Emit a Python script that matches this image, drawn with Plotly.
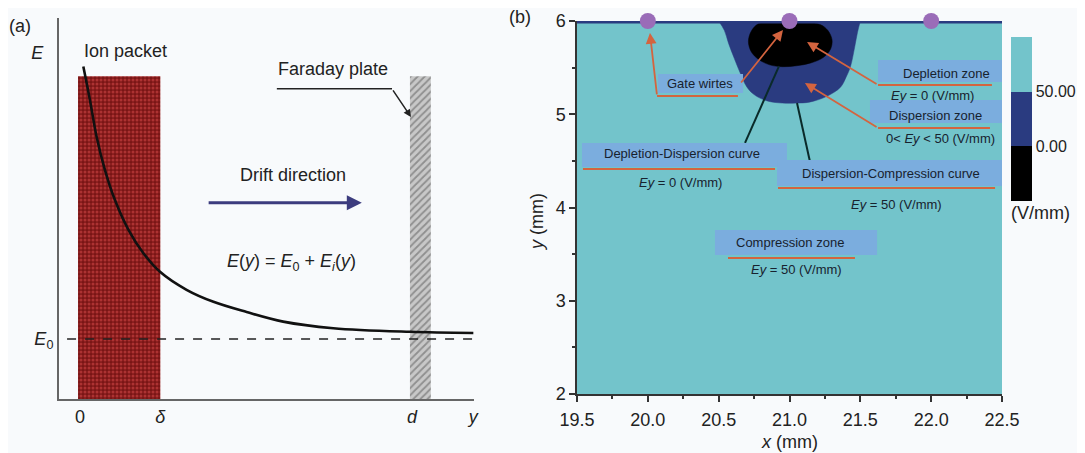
import plotly.graph_objects as go

# ---------------- Panel (a) data (schematic units) ----------------
curve_y = [0.10, 0.30, 0.50, 0.75, 1.05, 1.46, 1.91, 2.41, 3.21, 4.02, 5.02, 6.12, 7.63, 9.94, 11.85]
curve_E = [5.54, 4.98, 4.37, 3.82, 3.32, 2.82, 2.43, 2.12, 1.82, 1.62, 1.45, 1.29, 1.18, 1.12, 1.10]
E0 = 1.0
delta = 2.42
d_pos = 10.0
packet_x = [-0.06, 2.42, 2.42, -0.06, -0.06]
packet_E = [0, 0, 5.38, 5.38, 0]
plate_x = [9.94, 10.57, 10.57, 9.94, 9.94]
plate_E = [0, 0, 5.38, 5.38, 0]
a_xtick_vals = [0, delta, d_pos, 11.85]
a_xtick_text = ["0", "<i>δ</i>", "<i>d</i>", "<i>y</i>"]
a_ytick_vals = [E0, 5.78]
a_ytick_text = ["<i>E</i><sub>0</sub>", "<i>E</i>  "]
drift_arrow = dict(x0=3.83, x1=8.49, E=3.27)
faraday_leader_x = [5.93, 9.40]
faraday_leader_E = [5.17, 5.17]
faraday_tip = (9.97, 4.70)

# ---------------- Panel (b) data (mm) ----------------
field_x = [19.5, 22.5, 22.5, 19.5, 19.5]
field_y = [2, 2, 6, 6, 2]
navy_x = [20.50, 20.54, 20.57, 20.61, 20.65, 20.70, 20.76, 20.85, 20.95, 21.05,
          21.14, 21.26, 21.36, 21.40, 21.43, 21.46, 21.48, 21.50]
navy_y = [6.00, 5.90, 5.76, 5.60, 5.45, 5.29, 5.20, 5.14, 5.12, 5.12,
          5.13, 5.19, 5.29, 5.40, 5.51, 5.72, 5.88, 6.00]
black_x = [20.78, 20.90, 21.00, 21.12, 21.22, 21.27, 21.30, 21.29, 21.24, 21.15,
           21.05, 20.95, 20.86, 20.78, 20.73, 20.71, 20.73, 20.78]
black_y = [5.97, 5.99, 5.99, 5.99, 5.96, 5.90, 5.80, 5.70, 5.61, 5.55,
           5.52, 5.51, 5.53, 5.59, 5.67, 5.78, 5.89, 5.97]
gate_x = [20.0, 21.0, 22.0]
gate_y = [6.0, 6.0, 6.0]
cbar_vals = [0, 50]
cbar_text = ["0.00", "50.00"]

# label boxes: (x0, x1, y0, y1, text, text_x, text_y)
boxes = [
    (20.072, 20.672, 5.228, 5.432, "Gate wirtes", 20.368, 5.325),
    (21.625, 22.50, 5.346, 5.582, "Depletion zone", 22.105, 5.440),
    (21.568, 22.50, 4.906, 5.153, "Dispersion zone", 22.030, 4.990),
    (19.535, 20.982, 4.434, 4.692, "Depletion-Dispersion curve", 20.241, 4.574),
    (20.912, 22.50, 4.230, 4.510, "Dispersion-Compression curve", 21.716, 4.370),
    (20.474, 21.618, 3.491, 3.759, "Compression zone", 21.003, 3.625),
]
# red underlines: (x0, x1, y)
underlines = [
    (20.065, 20.636, 5.196),
    (21.625, 22.429, 5.314),
    (21.625, 22.415, 4.853),
    (19.542, 20.898, 4.413),
    (20.919, 22.451, 4.209),
    (20.566, 21.462, 3.458),
]
# value captions: (text, x, y)
captions = [
    ("<i>Ey</i> = 0 (V/mm)", 22.006, 5.196),
    ("0&lt; <i>Ey</i> &lt; 50 (V/mm)", 22.069, 4.745),
    ("<i>Ey</i> = 0 (V/mm)", 20.234, 4.263),
    ("<i>Ey</i> = 50 (V/mm)", 21.752, 4.027),
    ("<i>Ey</i> = 50 (V/mm)", 21.046, 3.330),
]
# red arrows: (tail_x, tail_y, tip_x, tip_y)
red_arrows = [
    (20.065, 5.196, 20.015, 5.871),
    (20.650, 5.324, 20.954, 5.903),
    (21.625, 5.314, 21.124, 5.775),
    (21.625, 4.853, 21.109, 5.335),
]
# black leader lines: (x0, y0, x1, y1)
black_leaders = [
    (20.686, 4.692, 20.926, 5.517),
    (21.053, 5.121, 21.145, 4.488),
]

# page body offset of the browser (8px) is compensated here
OFF = 8
W, H = 1085 - OFF, 453 - OFF
FONT = "Liberation Sans, Arial, sans-serif"
CYAN = "#73c4cb"
NAVY = "#2a3b80"
BOXC = "#7badde"
REDL = "#d4643f"
BG = "#f8fafc"


def px(v):
    return (v - OFF) / W


def py(v):
    return 1 - (v - OFF) / H


fig = go.Figure()

# ---- Panel (a) traces ----
fig.add_trace(go.Scatter(
    x=packet_x, y=packet_E, mode="lines", fill="toself",
    line=dict(width=0, color="#7b1616"), fillcolor="#7b1616",
    fillpattern=dict(shape=".", bgcolor="#7a1515", fgcolor="#e05050", size=4, solidity=0.45),
    xaxis="x", yaxis="y", hoverinfo="skip", showlegend=False))
fig.add_trace(go.Scatter(
    x=plate_x, y=plate_E, mode="lines", fill="toself",
    line=dict(width=0, color="#bbbbbb"), fillcolor="#c4c4c4",
    fillpattern=dict(shape="/", bgcolor="#c8c8c8", fgcolor="#555555", size=5, solidity=0.35),
    xaxis="x", yaxis="y", hoverinfo="skip", showlegend=False))
fig.add_trace(go.Scatter(
    x=[-0.39, 11.87], y=[E0, E0], mode="lines",
    line=dict(color="#222", width=1.6, dash="dash"),
    xaxis="x", yaxis="y", hoverinfo="skip", showlegend=False))
fig.add_trace(go.Scatter(
    x=curve_y, y=curve_E, mode="lines", line=dict(color="#111", width=2.6, shape="spline"),
    xaxis="x", yaxis="y", hoverinfo="skip", showlegend=False))
fig.add_trace(go.Scatter(
    x=faraday_leader_x, y=faraday_leader_E, mode="lines", line=dict(color="#222", width=1.5),
    xaxis="x", yaxis="y", hoverinfo="skip", showlegend=False))

# ---- Panel (b) traces ----
fig.add_trace(go.Scatter(
    x=field_x, y=field_y, mode="lines", fill="toself", line=dict(width=0, color=CYAN),
    fillcolor=CYAN, xaxis="x2", yaxis="y2", hoverinfo="skip", showlegend=False))
fig.add_trace(go.Scatter(
    x=navy_x, y=navy_y, mode="lines", fill="toself", line=dict(width=0.5, color=NAVY),
    fillcolor=NAVY, line_shape="spline", xaxis="x2", yaxis="y2", hoverinfo="skip", showlegend=False))
fig.add_trace(go.Scatter(
    x=black_x, y=black_y, mode="lines", fill="toself", line=dict(width=0.5, color="#000"),
    fillcolor="#000", line_shape="spline", xaxis="x2", yaxis="y2", hoverinfo="skip", showlegend=False))
fig.add_trace(go.Scatter(
    x=[19.5, 22.5], y=[5.988, 5.988], mode="lines", line=dict(width=3, color=NAVY),
    xaxis="x2", yaxis="y2", hoverinfo="skip", showlegend=False))

for (x0, x1, y) in underlines:
    fig.add_trace(go.Scatter(x=[x0, x1], y=[y, y], mode="lines",
                             line=dict(color=REDL, width=2), xaxis="x2", yaxis="y2",
                             hoverinfo="skip", showlegend=False))
for (x0, y0, x1, y1) in black_leaders:
    fig.add_trace(go.Scatter(x=[x0, x1], y=[y0, y1], mode="lines",
                             line=dict(color="#0a2a2a", width=2), xaxis="x2", yaxis="y2",
                             hoverinfo="skip", showlegend=False))

fig.add_trace(go.Scatter(
    x=gate_x, y=gate_y, mode="markers",
    marker=dict(size=16, color="#9a6cb8", line=dict(width=0)),
    cliponaxis=False, xaxis="x2", yaxis="y2", hoverinfo="skip", showlegend=False))

# colorbar carrier
cs = [[0, "#000000"], [1/3, "#000000"], [1/3, NAVY], [2/3, NAVY], [2/3, CYAN], [1, CYAN]]
fig.add_trace(go.Scatter(
    x=[21.0, 21.0], y=[3.0, 3.0], mode="markers",
    marker=dict(size=1, opacity=0, color=[-50, 100], colorscale=cs, cmin=-50, cmax=100,
                showscale=True,
                colorbar=dict(x=px(1011), xanchor="left", xpad=0, ypad=0,
                              y=py(37), yanchor="top", len=189 / H, lenmode="fraction",
                              thickness=21, thicknessmode="pixels",
                              tickvals=cbar_vals, ticktext=cbar_text, ticks="",
                              outlinewidth=0, tickfont=dict(size=16, color="#222", family=FONT),
                              title=dict(text="(V/mm)", side="bottom",
                                         font=dict(size=18, color="#222", family=FONT)))),
    xaxis="x2", yaxis="y2", hoverinfo="skip", showlegend=False))

shapes = []
for (x0, x1, y0, y1, *_rest) in boxes:
    shapes.append(dict(type="rect", xref="x2", yref="y2", x0=x0, x1=x1, y0=y0, y1=y1,
                       fillcolor=BOXC, line=dict(width=0), layer="above"))

annotations = []
# panel (a) texts
annotations += [
    dict(text="(a)", x=px(20), y=py(26), xref="paper", yref="paper", showarrow=False,
         xanchor="center", yanchor="middle", font=dict(size=18, color="#222")),
    dict(text="Ion packet", x=1.36, y=5.80, xref="x", yref="y", showarrow=False,
         font=dict(size=18, color="#222")),
    dict(text="Faraday plate", x=7.62, y=5.50, xref="x", yref="y", showarrow=False,
         font=dict(size=18, color="#222")),
    dict(text="Drift direction", x=6.42, y=3.73, xref="x", yref="y", showarrow=False,
         font=dict(size=18, color="#222")),
    dict(text="<i>E</i>(<i>y</i>) = <i>E</i><sub>0</sub> + <i>E</i><sub><i>i</i></sub>(<i>y</i>)",
         x=6.36, y=2.27, xref="x", yref="y", showarrow=False, font=dict(size=18, color="#222")),
    dict(text="", x=drift_arrow["x1"], y=drift_arrow["E"], ax=drift_arrow["x0"], ay=drift_arrow["E"],
         xref="x", yref="y", axref="x", ayref="y", showarrow=True, arrowhead=2,
         arrowsize=1, arrowwidth=3, arrowcolor="#3c3c7e"),
    dict(text="", x=faraday_tip[0], y=faraday_tip[1], ax=faraday_leader_x[1], ay=faraday_leader_E[1],
         xref="x", yref="y", axref="x", ayref="y", showarrow=True, arrowhead=2,
         arrowsize=1, arrowwidth=1.5, arrowcolor="#222"),
]
# panel (b) texts
annotations += [
    dict(text="(b)", x=px(520), y=py(17), xref="paper", yref="paper", showarrow=False,
         xanchor="center", yanchor="middle", font=dict(size=18, color="#222")),
    dict(text="<i>x</i> (mm)", x=px(789), y=py(442), xref="paper", yref="paper", showarrow=False,
         xanchor="center", yanchor="middle", font=dict(size=18, color="#222")),
    dict(text="<i>y</i> (mm)", x=px(537), y=py(222), xref="paper", yref="paper", showarrow=False,
         xanchor="center", yanchor="middle", textangle=-90, font=dict(size=18, color="#222")),
]
for (x0, x1, y0, y1, label, tx, ty) in boxes:
    annotations.append(dict(text=label, x=tx, y=ty, xref="x2", yref="y2", showarrow=False,
                            font=dict(size=13, color="#17222e")))
for (label, tx, ty) in captions:
    annotations.append(dict(text=label, x=tx, y=ty, xref="x2", yref="y2", showarrow=False,
                            font=dict(size=13, color="#17222e")))
for (x0, y0, x1, y1) in red_arrows:
    annotations.append(dict(text="", x=x1, y=y1, ax=x0, ay=y0, xref="x2", yref="y2",
                            axref="x2", ayref="y2", showarrow=True, arrowhead=2,
                            arrowsize=1.2, arrowwidth=1.8, arrowcolor=REDL))

fig.update_layout(
    width=W, height=H, margin=dict(l=0, r=0, t=0, b=0, pad=0, autoexpand=False),
    paper_bgcolor=BG, plot_bgcolor=BG,
    font=dict(family=FONT, color="#222"),
    shapes=shapes, annotations=annotations,
    xaxis=dict(domain=[px(59), px(474)], range=[-0.633, 11.87], showgrid=False, zeroline=False,
               showline=True, linecolor="#666", linewidth=2, ticks="",
               tickvals=a_xtick_vals, ticktext=a_xtick_text, tickfont=dict(size=18),
               anchor="y", fixedrange=True, automargin=False),
    yaxis=dict(domain=[py(399), py(18)], range=[0, 6.35], showgrid=False, zeroline=False,
               showline=True, linecolor="#666", linewidth=2, ticks="",
               tickvals=a_ytick_vals, ticktext=a_ytick_text, tickfont=dict(size=18),
               anchor="x", fixedrange=True, automargin=False),
    xaxis2=dict(domain=[px(577), px(1002)], range=[19.5, 22.5], showgrid=False, zeroline=False,
                showline=True, linecolor="#333", linewidth=1.5, ticks="outside", ticklen=6,
                tickwidth=1.5, tickcolor="#333", dtick=0.5, tickformat=".1f",
                minor=dict(dtick=0.25, ticks="outside", ticklen=3, tickcolor="#333"),
                tickfont=dict(size=18), ticklabelstandoff=3, anchor="y2", fixedrange=True,
                automargin=False),
    yaxis2=dict(domain=[py(394), py(21)], range=[2, 6], showgrid=False, zeroline=False,
                showline=True, linecolor="#333", linewidth=1.5, ticks="outside", ticklen=6,
                tickwidth=1.5, tickcolor="#333", dtick=1,
                minor=dict(dtick=0.5, ticks="outside", ticklen=3, tickcolor="#333"),
                tickfont=dict(size=18), anchor="x2", fixedrange=True, automargin=False),
)

fig.write_html("out.html")
